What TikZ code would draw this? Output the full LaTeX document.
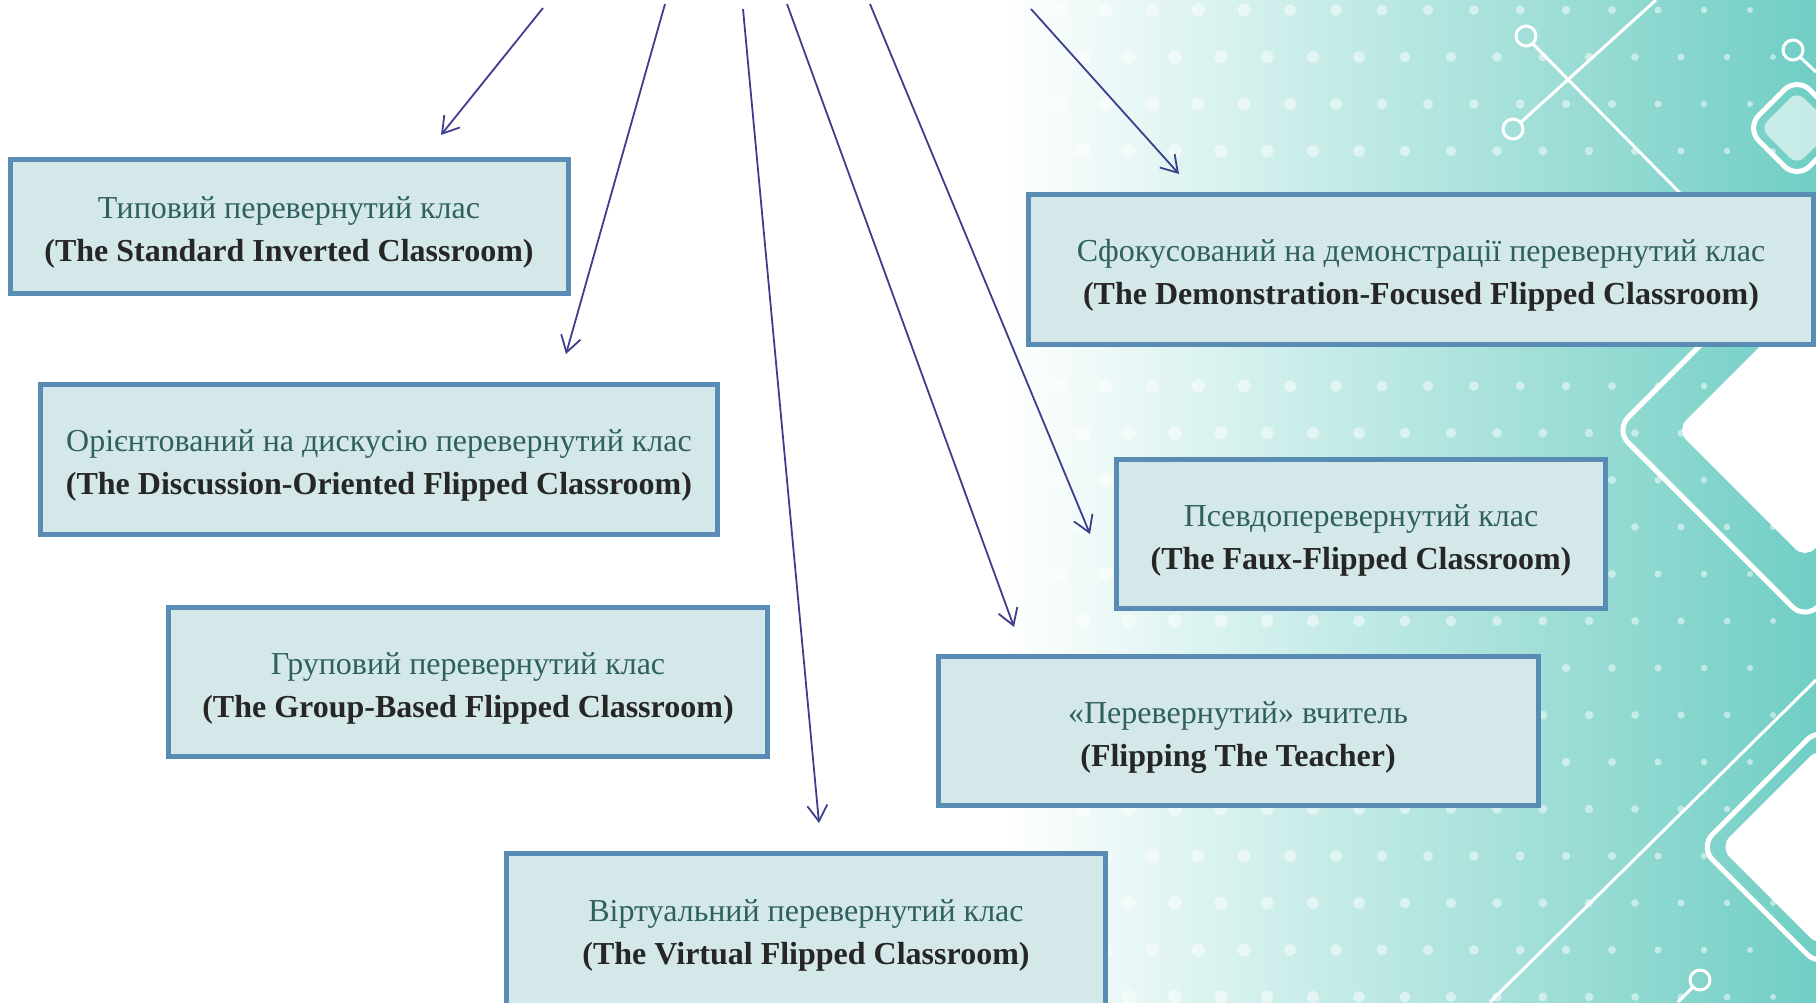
\documentclass[tikz,border=0pt]{standalone}
\usepackage{fontspec}
\setmainfont{Liberation Serif}
\usetikzlibrary{arrows.meta, positioning}
\definecolor{boxfill}{RGB}{213,232,233}
\definecolor{boxline}{RGB}{88,140,180}
\definecolor{uatext}{RGB}{47,96,96}
\definecolor{entext}{RGB}{38,38,38}
\definecolor{arrowc}{RGB}{62,62,140}
\definecolor{bgteal}{RGB}{112,206,196}
\tikzset{
  x=1pt, y=-1pt,
  >={Straight Barb[length=16pt,width=20pt]},
  kind/.style={draw=boxline, line width=5pt, fill=boxfill, align=center,
    text=entext, inner sep=0pt, text height=70pt, text depth=0pt,
    font=\fontsize{32}{43}\selectfont},
  link/.style={->, draw=arrowc, line width=1.8pt},
  deco/.style={draw=white, line width=5pt, rounded corners=18pt},
  wire/.style={draw=white, line width=3pt},
}

\begin{document}
\begin{tikzpicture}
  \useasboundingbox (0,0) rectangle (1816,1002);

  % background
  \shade[left color=white, middle color=bgteal!40, right color=bgteal] (1000,0) rectangle (1816,1002);
  \foreach \i in {0,...,15}
    \foreach \j in {0,...,21}
      \fill[white, opacity=0.5] ({1060+\i*46+mod(\j,2)*23}, {\j*47+10}) circle ({7.5-\i*0.3});
  \fill[white, opacity=0.6, rotate around={45:(1797,128)}, rounded corners=10pt] (1771,102) rectangle (1823,154);
  \draw[deco, rotate around={45:(1797,128)}] (1761,92) rectangle (1833,164);
  \fill[white, rotate around={45:(1805,430)}, rounded corners=14pt] (1714,339) rectangle (1896,521);
  \draw[deco, rotate around={45:(1805,430)}] (1671,296) rectangle (1939,564);
  \fill[white, rotate around={45:(1820,847)}, rounded corners=14pt] (1749,776) rectangle (1891,918);
  \draw[deco, rotate around={45:(1820,847)}] (1735,762) rectangle (1905,932);
  \draw[wire] (1490,1002) -- (1816,680);
  \draw[wire] (1533,44) -- (1680,193) (1520,123) -- (1656,0);
  \draw[wire] (1800,57) -- (1816,72) (1693,987) -- (1678,1002);
  \draw[wire] (1526,36) circle (10pt) (1513,129) circle (10pt) (1793,50) circle (10pt) (1700,980) circle (10pt);

  % boxes
  \node[kind, minimum width=558pt, minimum height=134pt] (std) at (289,226)
    {\textcolor{uatext}{Типовий перевернутий клас}\\ \textbf{(The Standard Inverted Classroom)}};
  \node[kind, minimum width=785pt, minimum height=150pt] (demo) at (1421,269)
    {\textcolor{uatext}{Сфокусований на демонстрації перевернутий клас}\\ \textbf{(The Demonstration-Focused Flipped Classroom)}};
  \node[kind, minimum width=677pt, minimum height=150pt] (disc) at (379,459)
    {\textcolor{uatext}{Орієнтований на дискусію перевернутий клас}\\ \textbf{(The Discussion-Oriented Flipped Classroom)}};
  \node[kind, minimum width=489pt, minimum height=149pt] (faux) at (1361,534)
    {\textcolor{uatext}{Псевдоперевернутий клас}\\ \textbf{(The Faux-Flipped Classroom)}};
  \node[kind, minimum width=599pt, minimum height=149pt] (group) at (468,682)
    {\textcolor{uatext}{Груповий перевернутий клас}\\ \textbf{(The Group-Based Flipped Classroom)}};
  \node[kind, minimum width=600pt, minimum height=149pt] (teach) at (1238,731)
    {\textcolor{uatext}{«Перевернутий» вчитель}\\ \textbf{(Flipping The Teacher)}};
  \node[kind, minimum width=599pt, minimum height=152pt] (virt) at (806,929)
    {\textcolor{uatext}{Віртуальний перевернутий клас}\\ \textbf{(The Virtual Flipped Classroom)}};

  % arrow ends
  \coordinate (s1) at (543,8);    \coordinate (e1) at (441,135);
  \coordinate (s2) at (665,4);    \coordinate (e2) at (566,354);
  \coordinate (s3) at (743,9);    \coordinate (e3) at (819,823);
  \coordinate (s4) at (787,4);    \coordinate (e4) at (1014,627);
  \coordinate (s5) at (870,4);    \coordinate (e5) at (1090,534);
  \coordinate (s6) at (1031,9);   \coordinate (e6) at (1179,174);

  % arrows
  \draw[link] (s1) -- (e1);
  \draw[link] (s2) -- (e2);
  \draw[link] (s3) -- (e3);
  \draw[link] (s4) -- (e4);
  \draw[link] (s5) -- (e5);
  \draw[link] (s6) -- (e6);
\end{tikzpicture}
\end{document}
